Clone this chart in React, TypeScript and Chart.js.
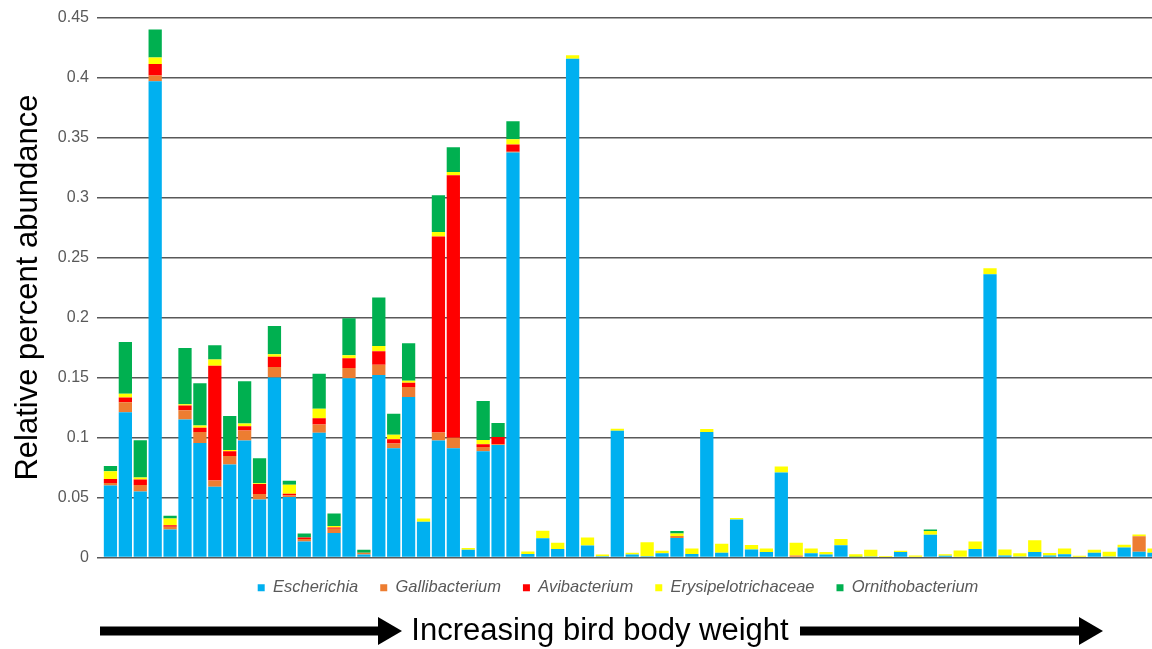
import React, { useEffect, useRef } from 'react';
import { Chart, registerables } from 'chart.js';

Chart.register(...registerables);

// Birds, ordered by increasing body weight (only the first 71 are visible in the cropped figure)
const birds = [
  '1', '2', '3', '4', '5', '6', '7', '8', '9', '10',
  '11', '12', '13', '14', '15', '16', '17', '18', '19', '20',
  '21', '22', '23', '24', '25', '26', '27', '28', '29', '30',
  '31', '32', '33', '34', '35', '36', '37', '38', '39', '40',
  '41', '42', '43', '44', '45', '46', '47', '48', '49', '50',
  '51', '52', '53', '54', '55', '56', '57', '58', '59', '60',
  '61', '62', '63', '64', '65', '66', '67', '68', '69', '70',
  '71', '72', '73', '74', '75', '76',
];

const escherichia = [
  0.060, 0.121, 0.055, 0.397, 0.0233, 0.115, 0.0955, 0.059, 0.0775, 0.0975,
  0.0483, 0.150, 0.0505, 0.0134, 0.104, 0.0204, 0.1494, 0.0025, 0.1522, 0.0911,
  0.1337, 0.0297, 0.0975, 0.0911, 0.0065, 0.0885, 0.0937, 0.3376, 0.003, 0.0161,
  0.0071, 0.4158, 0.010, 0.001, 0.1056, 0.0025, 0.001, 0.0035, 0.0162, 0.003,
  0.1047, 0.004, 0.0317, 0.0067, 0.0045, 0.0708, 0, 0.0035, 0.0024, 0.0103,
  0.0005, 0.0008, 0, 0.0045, 0, 0.019, 0.0014, 0.0006, 0.007, 0.236,
  0.0017, 0.0008, 0.0046, 0.0017, 0.0028, 0, 0.0039, 0.0008, 0.0083, 0.0047, 0.0039,
];

const gallibacterium = [
  0.002, 0.0084, 0.0055, 0.0047, 0.0023, 0.0078, 0.0092, 0.0052, 0.007, 0.0084,
  0.0046, 0.0087, 0.0012, 0.0021, 0.0069, 0.0035, 0.0086, 0.0015, 0.0085, 0.004,
  0.0084, 0, 0.0066, 0.0087, 0, 0.0035, 0.0006, 0.0006, 0, 0,
  0, 0, 0, 0, 0, 0, 0, 0, 0.0018, 0,
  0, 0, 0, 0, 0, 0, 0.0017, 0, 0, 0,
  0, 0, 0, 0, 0, 0, 0, 0, 0, 0,
  0, 0, 0, 0, 0, 0, 0, 0, 0, 0.0131, 0,
];

const avibacterium = [
  0.0035, 0.004, 0.0046, 0.0096, 0.0012, 0.0038, 0.0035, 0.0956, 0.004, 0.0035,
  0.0084, 0.0087, 0.0015, 0.0012, 0.0052, 0.0011, 0.0081, 0, 0.0113, 0.0035,
  0.0035, 0, 0.1634, 0.2187, 0, 0.0023, 0.0061, 0.0061, 0, 0,
  0, 0, 0, 0, 0, 0, 0, 0, 0, 0,
  0, 0, 0, 0, 0, 0, 0, 0, 0, 0,
  0, 0, 0, 0, 0, 0, 0, 0, 0, 0,
  0, 0, 0, 0, 0, 0, 0, 0, 0, 0, 0,
];

const erysipelotrichaceae = [
  0.0064, 0.003, 0.0015, 0.0055, 0.0058, 0.0011, 0.0018, 0.0052, 0.0012, 0.0023,
  0.0005, 0.0021, 0.0075, 0, 0.0078, 0.0012, 0.0024, 0, 0.0043, 0.0038,
  0.0017, 0.0029, 0.0038, 0.0029, 0.0015, 0.0037, 0, 0.0043, 0.002, 0.0061,
  0.0052, 0.0029, 0.0067, 0.0015, 0.0017, 0.0015, 0.0118, 0.0022, 0.002, 0.0045,
  0.0023, 0.0075, 0.0013, 0.0038, 0.003, 0.005, 0.0105, 0.0039, 0.0022, 0.0052,
  0.0022, 0.0057, 0.0012, 0.0012, 0.0016, 0.003, 0.0013, 0.0052, 0.0063, 0.005,
  0.005, 0.0027, 0.0097, 0.0021, 0.0047, 0.0014, 0.0025, 0.0039, 0.0023, 0.0014, 0.0036,
];

const ornithobacterium = [
  0.0043, 0.0432, 0.0312, 0.0232, 0.0021, 0.047, 0.0353, 0.0119, 0.0283, 0.0353,
  0.0209, 0.0234, 0.0032, 0.0032, 0.0293, 0.0105, 0.031, 0.0025, 0.0405, 0.0174,
  0.0313, 0, 0.0307, 0.0206, 0, 0.0325, 0.0116, 0.0151, 0, 0,
  0, 0, 0, 0, 0, 0, 0, 0, 0.002, 0,
  0, 0, 0, 0, 0, 0, 0, 0, 0, 0,
  0, 0, 0, 0, 0, 0.0013, 0, 0, 0, 0,
  0, 0, 0, 0, 0, 0, 0, 0, 0, 0, 0,
];

const seriesNames = ['Escherichia', 'Gallibacterium', 'Avibacterium', 'Erysipelotrichaceae', 'Ornithobacterium'];
const seriesColors = ['#00B0F0', '#ED7D31', '#FF0000', '#FFFF00', '#00B050'];
const yTicks = [0, 0.05, 0.1, 0.15, 0.2, 0.25, 0.3, 0.35, 0.4, 0.45];
const yTitle = 'Relative percent abundance';
const arrowNote = 'Increasing bird body weight';

const FONT = '"Liberation Sans", Arial, Helvetica, sans-serif';

function drawArrow(ctx: CanvasRenderingContext2D, x0: number, x1: number, y: number) {
  const shaft = 9;
  const headLen = 24;
  const headH = 28;
  ctx.fillRect(x0, y - shaft / 2, x1 - headLen - x0 + 1, shaft);
  ctx.beginPath();
  ctx.moveTo(x1 - headLen, y - headH / 2);
  ctx.lineTo(x1, y);
  ctx.lineTo(x1 - headLen, y + headH / 2);
  ctx.closePath();
  ctx.fill();
}

const arrowPlugin = {
  id: 'bodyWeightArrow',
  afterDraw(chart: any) {
    const ctx = chart.ctx as CanvasRenderingContext2D;
    const y = 631;
    ctx.save();
    ctx.fillStyle = '#000';
    drawArrow(ctx, 100, 402, y);
    drawArrow(ctx, 800, 1103, y);
    ctx.font = `31px ${FONT}`;
    ctx.textAlign = 'center';
    ctx.textBaseline = 'middle';
    ctx.fillText(arrowNote, 600, y);
    ctx.restore();
  },
};

export default function App() {
  const canvasRef = useRef<HTMLCanvasElement | null>(null);

  useEffect(() => {
    if (!canvasRef.current) return;
    const values = [escherichia, gallibacterium, avibacterium, erysipelotrichaceae, ornithobacterium];
    const chart = new Chart(canvasRef.current, {
      type: 'bar',
      data: {
        labels: birds,
        datasets: seriesNames.map((name, i) => ({
          label: name,
          data: values[i],
          backgroundColor: seriesColors[i],
          borderWidth: 0,
          barPercentage: 0.89,
          categoryPercentage: 1.0,
        })),
      },
      options: {
        responsive: false,
        animation: false,
        layout: { padding: { top: 17, bottom: 43, left: 0, right: 0 } },
        plugins: {
          legend: {
            position: 'bottom',
            labels: {
              boxWidth: 7,
              boxHeight: 7,
              padding: 22,
              color: '#595959',
              font: { family: FONT, size: 16.5, style: 'italic' },
            },
          },
          tooltip: { enabled: false },
        },
        scales: {
          x: { stacked: true, display: false },
          y: {
            stacked: true,
            min: 0,
            max: 0.45,
            afterBuildTicks: (scale: any) => {
              scale.ticks = yTicks.map((v) => ({ value: v }));
            },
            afterFit: (scale: any) => {
              scale.width = 103;
            },
            ticks: {
              color: '#595959',
              padding: 8,
              font: { family: FONT, size: 16 },
              callback: (v: any) => String(+Number(v).toFixed(2)),
            },
            grid: { color: '#595959', lineWidth: 1.5, tickLength: 6, drawTicks: true },
            border: { display: false },
            title: {
              display: true,
              text: yTitle,
              color: '#000',
              font: { family: FONT, size: 31 },
              padding: { top: 10, bottom: 0 },
            },
          },
        },
      },
      plugins: [arrowPlugin],
    });
    return () => chart.destroy();
  }, []);

  return (
    <div
      style={{
        position: 'fixed',
        left: 0,
        top: 0,
        width: 1152,
        height: 649,
        overflow: 'hidden',
        background: '#fff',
      }}
    >
      <canvas ref={canvasRef} width={1236} height={649} style={{ display: 'block' }} />
    </div>
  );
}
